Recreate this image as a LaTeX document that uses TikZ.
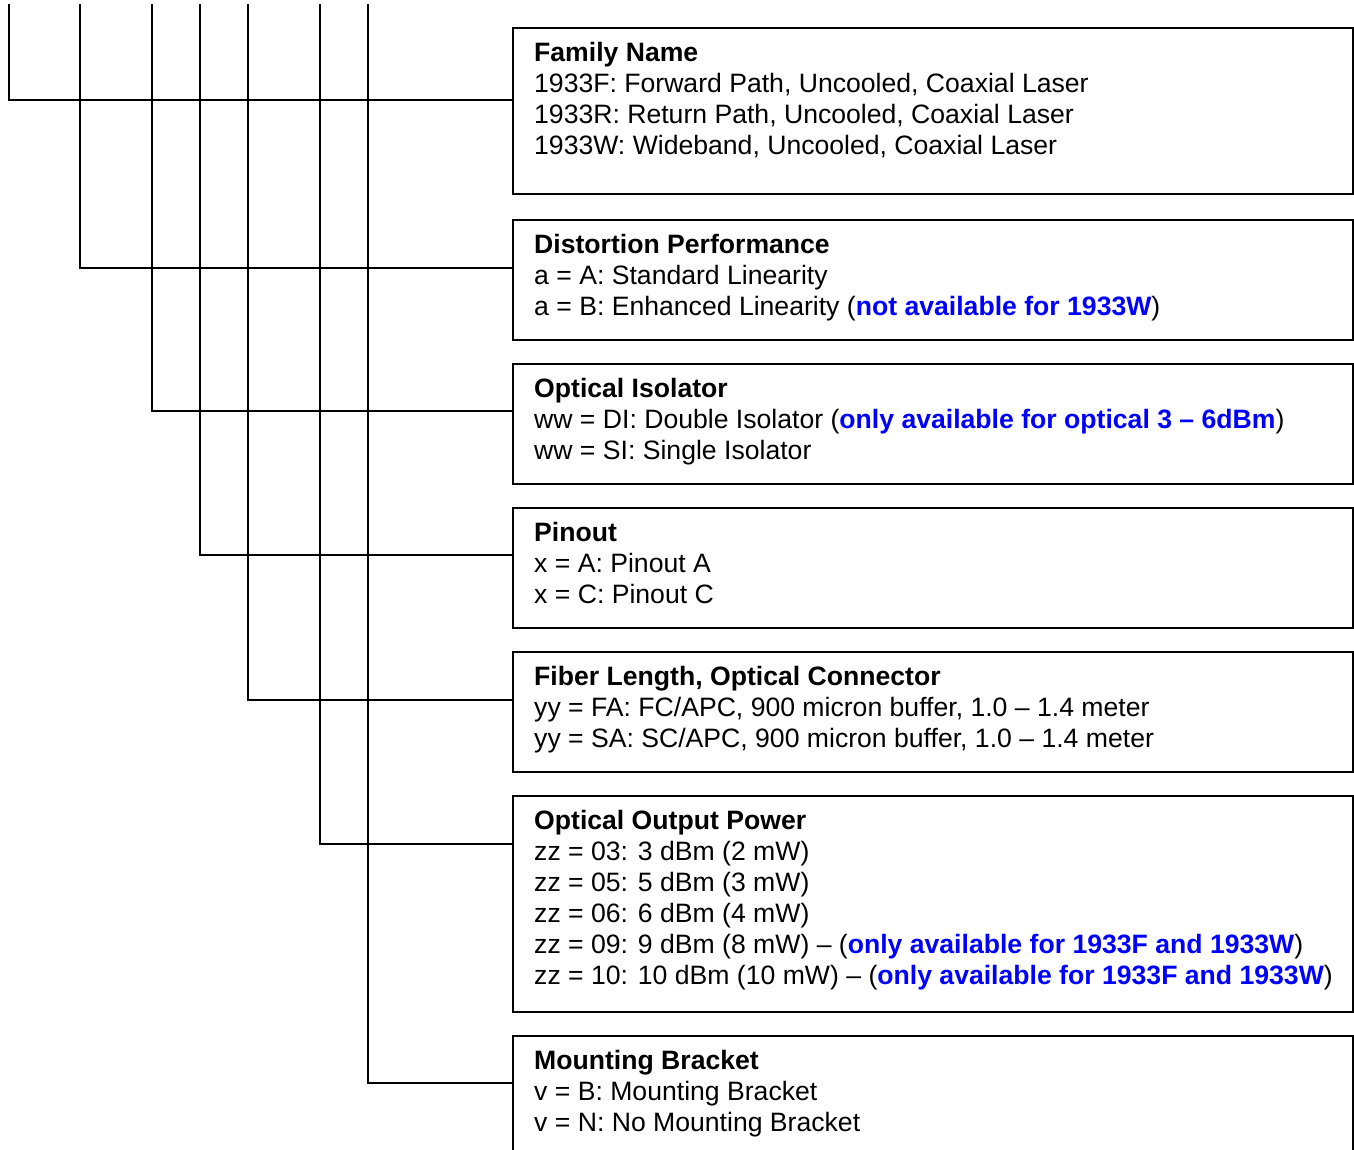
\documentclass[tikz,border=0pt]{standalone}
\usepackage{fontspec}
\setmainfont{Liberation Sans}
\definecolor{noteblue}{RGB}{0,0,255}
\newcommand{\note}[1]{\textbf{\color{noteblue}#1}}

\begin{document}
\begin{tikzpicture}[x=1pt, y=-1pt,
	box/.style={draw, line width=1.6pt, minimum width=840pt, anchor=north west, inner sep=0pt},
	txt/.style={anchor=north west, align=left, inner sep=0pt, font=\fontsize{26.6}{31}\selectfont},
	wire/.style={line width=1.6pt}]
		%%%%% START %%%%%
		\clip (0, 0) rectangle (1354, 1149);
		
		% option boxes
		\node[box, minimum height=166pt] (fam) at (512, 27) {};
		\node[box, minimum height=120pt] (dist) at (512, 219) {};
		\node[box, minimum height=120pt] (iso) at (512, 363) {};
		\node[box, minimum height=120pt] (pin) at (512, 507) {};
		\node[box, minimum height=120pt] (fib) at (512, 651) {};
		\node[box, minimum height=216pt] (pwr) at (512, 795) {};
		\node[box, minimum height=140pt] (brk) at (512, 1035) {};
		
		% texts
		\node[txt] (famtxt) at ([xshift=22pt, yshift=-13pt]fam.north west) {\strut\textbf{Family Name}\\
			1933F: Forward Path, Uncooled, Coaxial Laser\\
			1933R: Return Path, Uncooled, Coaxial Laser\\
			1933W: Wideband, Uncooled, Coaxial Laser};
		\node[txt] (disttxt) at ([xshift=22pt, yshift=-13pt]dist.north west) {\strut\textbf{Distortion Performance}\\
			a = A: Standard Linearity\\
			a = B: Enhanced Linearity (\note{not available for 1933W})};
		\node[txt] (isotxt) at ([xshift=22pt, yshift=-13pt]iso.north west) {\strut\textbf{Optical Isolator}\\
			ww = DI: Double Isolator (\note{only available for optical 3 -- 6dBm})\\
			ww = SI: Single Isolator};
		\node[txt] (pintxt) at ([xshift=22pt, yshift=-13pt]pin.north west) {\strut\textbf{Pinout}\\
			x = A: Pinout A\\
			x = C: Pinout C};
		\node[txt] (fibtxt) at ([xshift=22pt, yshift=-13pt]fib.north west) {\strut\textbf{Fiber Length, Optical Connector}\\
			yy = FA: FC/APC, 900 micron buffer, 1.0 -- 1.4 meter\\
			yy = SA: SC/APC, 900 micron buffer, 1.0 -- 1.4 meter};
		\node[txt] (pwrtxt) at ([xshift=22pt, yshift=-13pt]pwr.north west) {\strut\textbf{Optical Output Power}\\
			zz = 03: 3 dBm (2 mW)\\
			zz = 05: 5 dBm (3 mW)\\
			zz = 06: 6 dBm (4 mW)\\
			zz = 09: 9 dBm (8 mW) -- (\note{only available for 1933F and 1933W})\\
			zz = 10: 10 dBm (10 mW) -- (\note{only available for 1933F and 1933W})};
		\node[txt] (brktxt) at ([xshift=22pt, yshift=-13pt]brk.north west) {\strut\textbf{Mounting Bracket}\\
			v = B: Mounting Bracket\\
			v = N: No Mounting Bracket};
		
		% part number digits come in from the top
		\coordinate (top1) at (9, 4);
		\coordinate (top2) at (80, 4);
		\coordinate (top3) at (152, 4);
		\coordinate (top4) at (200, 4);
		\coordinate (top5) at (248, 4);
		\coordinate (top6) at (320, 4);
		\coordinate (top7) at (368, 4);
		
		\draw[wire] (top1) |- ([yshift=-73pt]fam.north west);
		\draw[wire] (top2) |- ([yshift=-49pt]dist.north west);
		\draw[wire] (top3) |- ([yshift=-48pt]iso.north west);
		\draw[wire] (top4) |- ([yshift=-48pt]pin.north west);
		\draw[wire] (top5) |- ([yshift=-49pt]fib.north west);
		\draw[wire] (top6) |- ([yshift=-49pt]pwr.north west);
		\draw[wire] (top7) |- ([yshift=-48pt]brk.north west);
		
		%%%%% END %%%%%
	\end{tikzpicture}
\end{document}
